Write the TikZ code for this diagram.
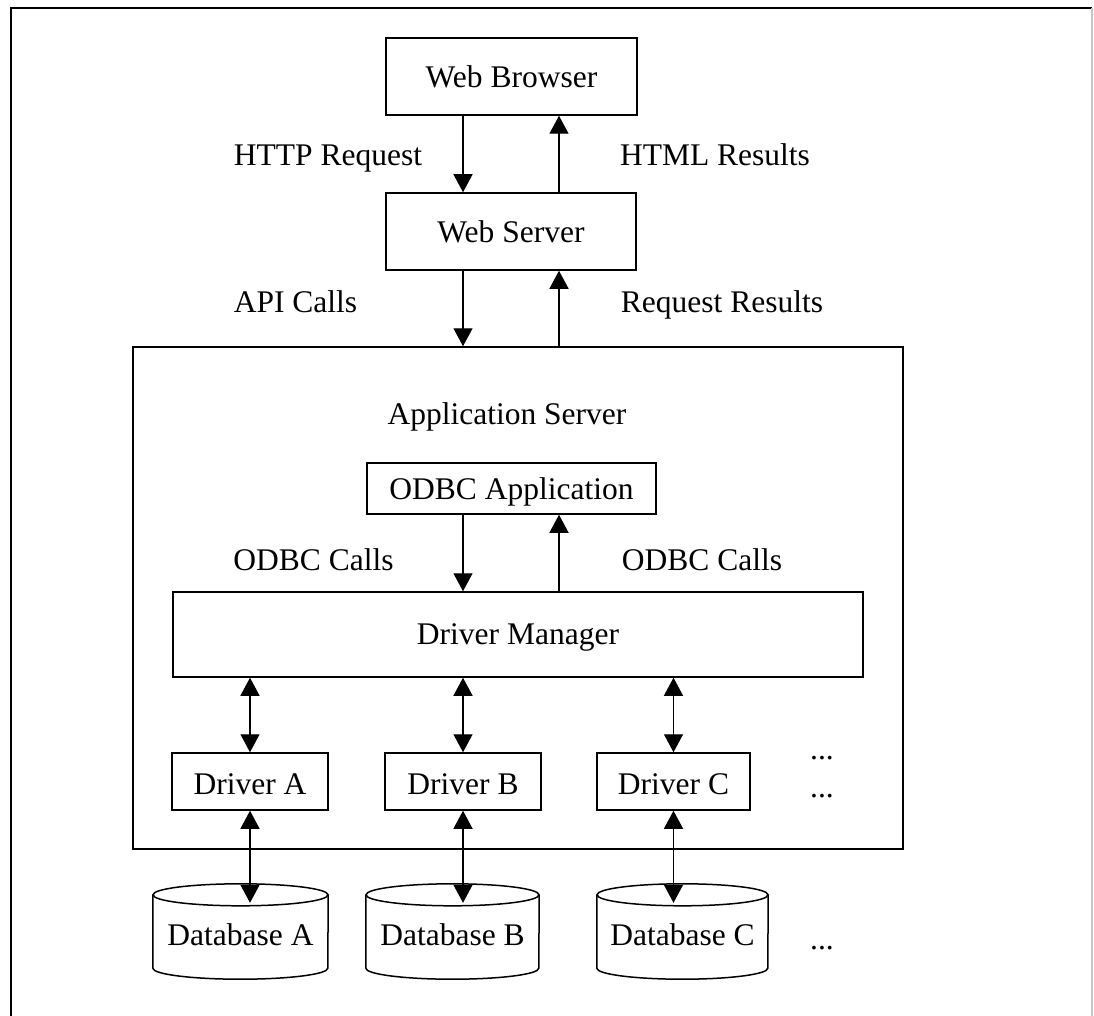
\documentclass[tikz,border=0pt]{standalone}
\usepackage{fontspec}
\setmainfont{Liberation Serif}
\usetikzlibrary{arrows.meta,calc}
\begin{document}
\begin{tikzpicture}[x=1pt,y=-1pt,
  txt/.style={inner sep=0pt, text depth=0pt, font=\fontsize{31.5}{36}\selectfont},
  box/.style={txt, draw, line width=1.5pt},
  dbbox/.style={txt, draw=none},
  arr/.style={line width=1.3pt, -{Triangle[length=18pt,width=19pt]}},
  biarr/.style={line width=1.3pt, {Triangle[length=18pt,width=19pt]}-{Triangle[length=18pt,width=19pt]}},
  dbshape/.style={line width=1.5pt}]
\useasboundingbox (0,0) rectangle (1094,1016);

% page frame
\draw[line width=1.5pt] (11,1016) -- (11,8) -- (1092,8);
\draw[line width=1.5pt, gray!45] (1092,8) -- (1092,1016);

% columns of the vertical connectors
\coordinate (colL) at (463,0);
\coordinate (colR) at (559,0);

% top tier
\node[box, minimum width=251pt, minimum height=77pt] (browser) at (511.5,76.5) {Web Browser};
\node[box, minimum width=250pt, minimum height=77pt] (webserver) at (511,231.5) {Web Server};

% application server and its parts
\node[box, minimum width=770pt, minimum height=502pt] (appserver) at (518,598) {};
\node[txt] (apptitle) at (507,414) {Application Server};
\node[box, minimum width=289pt, minimum height=51pt] (odbcapp) at (511.5,488.5) {ODBC Application};
\node[box, minimum width=690pt, minimum height=85pt] (drvmgr) at (518,634.5) {Driver Manager};
\node[box, minimum width=156pt, minimum height=57pt] (drvA) at (250,781.5) {\raisebox{-6pt}{Driver A}};
\node[box, minimum width=156pt, minimum height=57pt] (drvB) at (463,781.5) {\raisebox{-6pt}{Driver B}};
\node[box, minimum width=153pt, minimum height=57pt] (drvC) at (673.5,781.5) {\raisebox{-6pt}{Driver C}};
\node[txt, anchor=base] (dots1) at (822,759) {...};
\node[txt, anchor=base] (dots2) at (822,797) {...};

% databases
\node[dbbox, minimum width=175pt, minimum height=95pt] (dbA) at (240.5,931.5) {\raisebox{-7pt}{Database A}};
\node[dbbox, minimum width=173pt, minimum height=95pt] (dbB) at (452.5,931.5) {\raisebox{-7pt}{Database B}};
\node[dbbox, minimum width=171pt, minimum height=95pt] (dbC) at (682.5,931.5) {\raisebox{-7pt}{Database C}};
\node[txt, anchor=base] (dots3) at (822,949) {...};

% cylinder outlines round the database nodes
\foreach \db/\rx in {dbA/87.5, dbB/86.5, dbC/85.5} {
  \draw[dbshape] ([yshift=-11pt]\db.north) ellipse [x radius=\rx pt, y radius=11pt];
  \draw[dbshape] ([yshift=-11pt]\db.north west) -- ([yshift=11pt]\db.south west)
    arc[start angle=180, end angle=360, x radius=\rx pt, y radius=11pt]
    -- ([yshift=-11pt]\db.north east);
}

% connectors
\draw[arr] (browser.south -| colL) -- (webserver.north -| colL);
\draw[arr] (webserver.north -| colR) -- (browser.south -| colR);
\draw[arr] (webserver.south -| colL) -- (appserver.north -| colL);
\draw[arr] (appserver.north -| colR) -- (webserver.south -| colR);
\draw[arr] (odbcapp.south -| colL) -- (drvmgr.north -| colL);
\draw[arr] (drvmgr.north -| colR) -- (odbcapp.south -| colR);
\foreach \d in {drvA, drvB, drvC} {
  \draw[biarr] (\d.north |- drvmgr.south) -- (\d.north);
}
\draw[biarr] (drvA.south) -- ($(drvA.south |- dbA.north)+(0,19)$);
\draw[biarr] (drvB.south) -- ($(drvB.south |- dbB.north)+(0,19)$);
\draw[biarr] (drvC.south) -- ($(drvC.south |- dbC.north)+(0,19)$);

% connector labels
\node[txt] (httpreq) at (328,155) {HTTP Request};
\node[txt] (htmlres) at (715,155) {HTML Results};
\node[txt] (apicalls) at (295.5,302) {API Calls};
\node[txt] (reqres) at (722,302) {Request Results};
\node[txt] (odbcL) at (313.5,560) {ODBC Calls};
\node[txt] (odbcR) at (702,560) {ODBC Calls};
\end{tikzpicture}
\end{document}
